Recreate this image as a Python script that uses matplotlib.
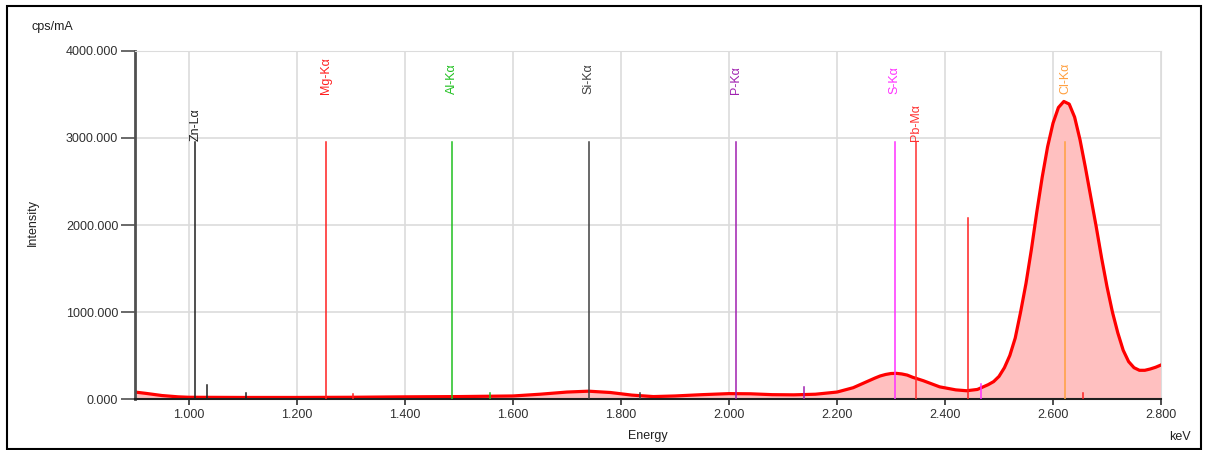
import numpy as np
import matplotlib
matplotlib.use('Agg')
import matplotlib.pyplot as plt
from matplotlib.patches import Rectangle

plt.rcParams['font.family'] = ['Liberation Sans', 'DejaVu Sans']

# spectrum (keV, cps/mA)
energia = [0.90, 0.92, 0.95, 0.98, 1.00, 1.10, 1.20, 1.30, 1.40, 1.50, 1.60, 1.65,
           1.70, 1.74, 1.78, 1.82, 1.86, 1.90, 1.95, 2.00, 2.04, 2.08, 2.12, 2.16,
           2.20, 2.23, 2.25, 2.27, 2.28, 2.29, 2.30, 2.31, 2.32, 2.33, 2.34, 2.36,
           2.39, 2.42, 2.44, 2.46, 2.48, 2.49, 2.50, 2.51, 2.52, 2.53, 2.54, 2.55,
           2.56, 2.57, 2.58, 2.59, 2.60, 2.61, 2.62, 2.63, 2.64, 2.65, 2.66, 2.67,
           2.68, 2.69, 2.70, 2.71, 2.72, 2.73, 2.74, 2.75, 2.76, 2.77, 2.78, 2.79, 2.80]
contagem = [80, 65, 40, 25, 20, 18, 18, 20, 25, 28, 35, 55,
            80, 90, 75, 45, 28, 35, 50, 62, 60, 50, 48, 55,
            80, 130, 185, 240, 265, 282, 293, 295, 288, 275, 250, 210,
            140, 105, 95, 110, 165, 200, 260, 360, 500, 700, 1000, 1330,
            1720, 2150, 2550, 2900, 3170, 3350, 3420, 3390, 3240, 2980, 2660, 2320,
            1980, 1620, 1290, 1000, 760, 560, 430, 360, 330, 330, 345, 365, 391]

# identified lines
elementos = ['Zn-Lα', 'Mg-Kα', 'Al-Kα', 'Si-Kα', 'P-Kα', 'S-Kα', 'Pb-Mα', 'Cl-Kα']
energia_linhas = [1.012, 1.254, 1.487, 1.740, 2.013, 2.307, 2.346, 2.622]
cores_linhas = ['#202020', '#ff2020', '#20c020', '#404040', '#a020b0', '#ff30ff', '#ff3030', '#ffa040']
altura_linhas = 2950
rotulo_y = [2960, 3500, 3500, 3500, 3500, 3500, 2960, 3500]

# small markers (escape / sum peaks)
energia_pequenas = [1.034, 1.105, 1.303, 1.557, 1.836, 2.139, 2.443, 2.466, 2.655]
altura_pequenas = [160, 65, 58, 65, 73, 134, 2080, 172, 65]
cores_pequenas = ['#202020', '#202020', '#ff2020', '#20c020', '#404040', '#a020b0', '#ff2020', '#ff30ff', '#ff2020']

fig = plt.figure(figsize=(12.05, 4.5), dpi=100)
ax = fig.add_axes([0.112, 0.1133, 0.8515, 0.7734])

ax.fill_between(energia, contagem, 0, color='#ffc0c0', zorder=1)
ax.plot(energia, contagem, color='#ff0000', lw=2.3, zorder=2, solid_joinstyle='round')

for e, c, nome, ry in zip(energia_linhas, cores_linhas, elementos, rotulo_y):
    ax.plot([e, e], [0, altura_linhas], color=c, lw=1.1, zorder=3)
    ax.text(e, ry, nome, rotation=90, ha='center', va='bottom', color=c, fontsize=9, zorder=4)

for e, h, c in zip(energia_pequenas, altura_pequenas, cores_pequenas):
    ax.plot([e, e], [0, h], color=c, lw=1.1, zorder=3)

ax.set_xlim(0.9, 2.8)
ax.set_ylim(0, 4000)
ax.set_xticks(np.arange(1.0, 2.81, 0.2))
ax.set_yticks(np.arange(0, 4001, 1000))
ax.set_xticklabels([f'{v:.3f}' for v in np.arange(1.0, 2.81, 0.2)])
ax.set_yticklabels([f'{v:.3f}' for v in np.arange(0, 4001, 1000)])
ax.tick_params(axis='y', length=10, width=1.2, color='#505050', labelsize=9, labelcolor='#303030', pad=2)
ax.tick_params(axis='x', length=4, width=1.2, color='#303030', labelsize=9, labelcolor='#303030', pad=3)

ax.grid(True, color='#dcdcdc', lw=1.2, zorder=0)
ax.set_axisbelow(True)
ax.spines['top'].set_color('#dcdcdc')
ax.spines['right'].set_color('#dcdcdc')
ax.spines['left'].set_color('#505050')
ax.spines['left'].set_linewidth(2)
ax.spines['bottom'].set_color('#202020')
ax.spines['bottom'].set_linewidth(1.5)

fig.text(31 / 1205, 1 - 27 / 450, 'cps/mA', fontsize=9, color='#202020', va='center', ha='left')
fig.text(33 / 1205, 1 - 223 / 450, 'Intensity', fontsize=9, color='#202020', va='center', ha='center', rotation=90)
fig.text(648 / 1205, 1 - 436 / 450, 'Energy', fontsize=9, color='#202020', va='center', ha='center')
fig.text(1180 / 1205, 1 - 437 / 450, 'keV', fontsize=9, color='#202020', va='center', ha='center')

fig.patches.append(Rectangle((7 / 1205, 0.002), 1194 / 1205, 1 - 6 / 450 - 0.002,
                             transform=fig.transFigure, fill=False, edgecolor='black', lw=1.5))

fig.savefig('out.png', dpi=100)
